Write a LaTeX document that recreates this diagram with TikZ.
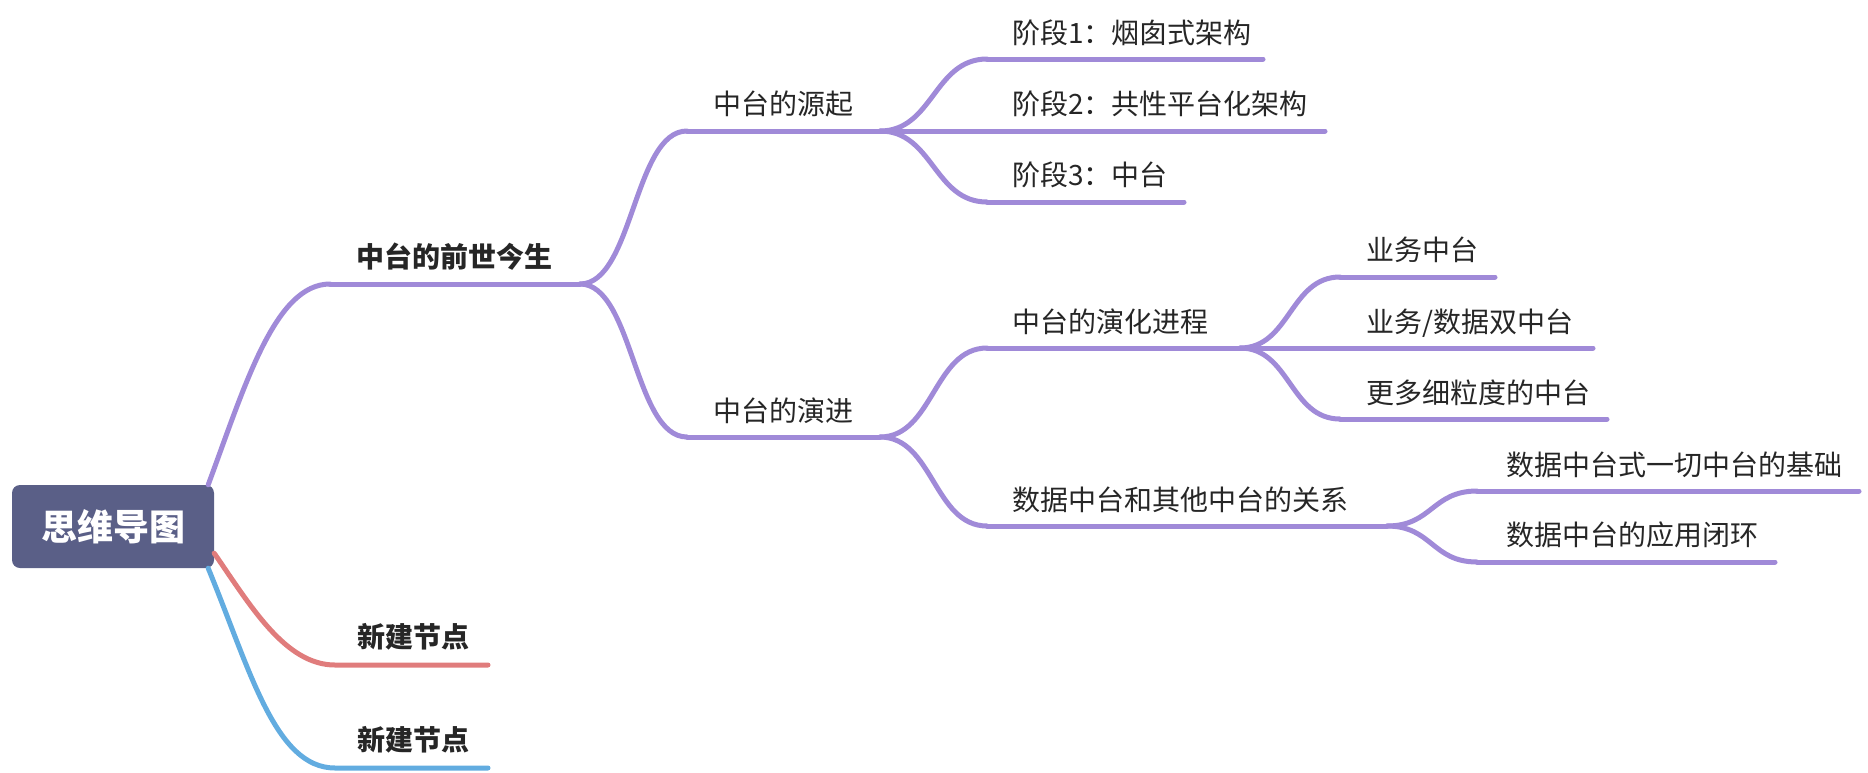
\documentclass[tikz,border=0pt]{standalone}
\usepackage{fontspec}
\setmainfont{Noto Sans CJK SC}

\definecolor{rootfill}{HTML}{5A5F87}
\definecolor{lilac}{HTML}{A08AD8}
\definecolor{rose}{HTML}{E07C7C}
\definecolor{sky}{HTML}{62ACE0}
\definecolor{inkgray}{HTML}{262626}

\tikzset{
  topic/.style={anchor=west, inner sep=0pt, text=inkgray, font=\fontsize{28pt}{32pt}\selectfont},
  maintopic/.style={topic, font=\fontsize{28pt}{32pt}\selectfont\bfseries},
  branch/.style={line width=5pt, line cap=round, draw=lilac},
}

\begin{document}
\begin{tikzpicture}[x=1pt, y=-1pt]
    \useasboundingbox (0,0) rectangle (1868,772);

    \node[fill=rootfill, rounded corners=8pt, minimum width=202pt, minimum height=83pt,
          text=white, font=\fontsize{36pt}{40pt}\selectfont\bfseries] (root) at (113,526.5) {思维导图};

    % level 1
    \node[maintopic] (qs) at (356,257) {中台的前世今生};
    \node[maintopic] (n1) at (357,637) {新建节点};
    \node[maintopic] (n2) at (357,740) {新建节点};
    \coordinate (qs-s) at (330,284); \coordinate (qs-e) at (580,284);
    \coordinate (n1-s) at (335,665); \coordinate (n1-e) at (488,665);
    \coordinate (n2-s) at (335,768); \coordinate (n2-e) at (488,768);

    % level 2
    \node[topic] (yq) at (713,104) {中台的源起};
    \node[topic] (yj) at (713,411) {中台的演进};
    \coordinate (yq-s) at (687,131); \coordinate (yq-e) at (880,131);
    \coordinate (yj-s) at (687,437); \coordinate (yj-e) at (880,437);

    % level 3
    \node[topic] (jd1) at (1012,33) {阶段1：烟囱式架构};
    \node[topic] (jd2) at (1012,104) {阶段2：共性平台化架构};
    \node[topic] (jd3) at (1012,175) {阶段3：中台};
    \node[topic] (yh) at (1012,322) {中台的演化进程};
    \node[topic] (gx) at (1012,500) {数据中台和其他中台的关系};
    \coordinate (jd1-s) at (987,59); \coordinate (jd1-e) at (1263,59);
    \coordinate (jd2-e) at (1325,131);
    \coordinate (jd3-s) at (987,202); \coordinate (jd3-e) at (1184,202);
    \coordinate (yh-s) at (987,348); \coordinate (yh-e) at (1240,348);
    \coordinate (gx-s) at (987,526); \coordinate (gx-e) at (1387,526);

    % level 4
    \node[topic] (yw) at (1366,250) {业务中台};
    \node[topic] (sz) at (1366,323) {业务/数据双中台};
    \node[topic] (xl) at (1366,393) {更多细粒度的中台};
    \node[topic] (jc) at (1506,465) {数据中台式一切中台的基础};
    \node[topic] (bh) at (1506,535) {数据中台的应用闭环};
    \coordinate (yw-s) at (1340,277); \coordinate (yw-e) at (1495,277);
    \coordinate (sz-e) at (1593,348);
    \coordinate (xl-s) at (1340,419); \coordinate (xl-e) at (1607,419);
    \coordinate (jc-s) at (1477,491); \coordinate (jc-e) at (1859,491);
    \coordinate (bh-s) at (1477,562); \coordinate (bh-e) at (1775,562);

    % from the root
    \draw[branch] ([xshift=-6pt]root.north east) .. controls +(37,-100) and +(-55,0) .. (qs-s);
    \draw[branch, draw=rose] ([yshift=15pt]root.south east) .. controls +(36,52) and +(-50,0) .. (n1-s) -- (n1-e);
    \draw[branch, draw=sky] ([xshift=-6pt]root.south east) .. controls +(42,102) and +(-60,0) .. (n2-s) -- (n2-e);

    % curves between the levels
    \foreach \a/\b/\d in {qs-e/yq-s/53, qs-e/yj-s/53, yq-e/jd1-s/53, yq-e/jd3-s/53,
                          yj-e/yh-s/53, yj-e/gx-s/53, yh-e/yw-s/50, yh-e/xl-s/50,
                          gx-e/jc-s/45, gx-e/bh-s/45}
        \draw[branch] (\a) .. controls +(\d,0) and +(-\d,0) .. (\b);

    % underlines
    \foreach \s/\e in {qs-s/qs-e, yq-s/yq-e, yj-s/yj-e, jd1-s/jd1-e, yq-e/jd2-e, jd3-s/jd3-e,
                       yh-s/yh-e, gx-s/gx-e, yw-s/yw-e, yh-e/sz-e, xl-s/xl-e, jc-s/jc-e, bh-s/bh-e}
        \draw[branch] (\s) -- (\e);
\end{tikzpicture}
\end{document}
